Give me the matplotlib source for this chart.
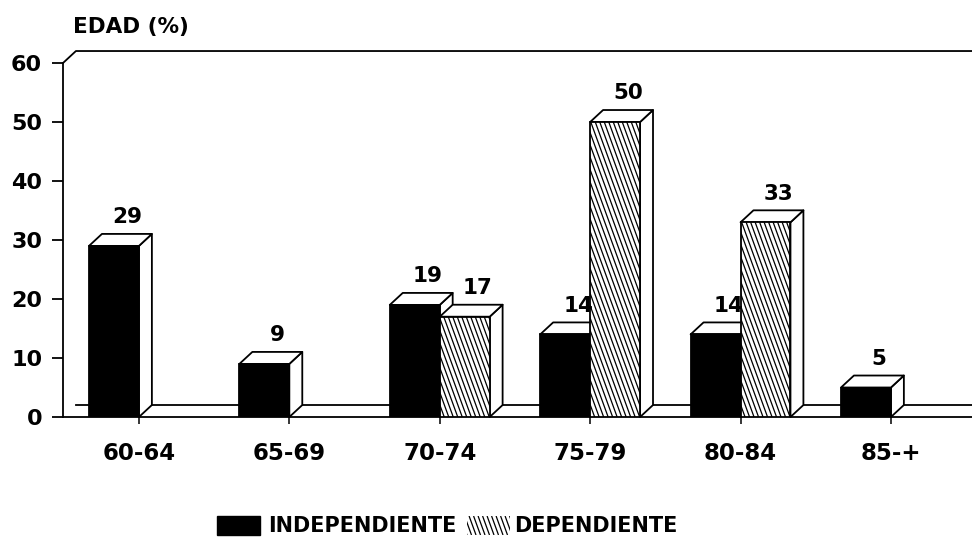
import matplotlib
matplotlib.use("Agg")
import matplotlib.pyplot as plt
import numpy as np
from matplotlib.patches import Polygon, Rectangle
from matplotlib.collections import LineCollection
from matplotlib.transforms import IdentityTransform

age_groups = ["60-64", "65-69", "70-74", "75-79", "80-84", "85-+"]
independiente = [29, 9, 19, 14, 14, 5]
dependiente = [0, 0, 17, 50, 33, 0]
y_ticks = [0, 10, 20, 30, 40, 50, 60]

plt.rcParams["font.family"] = "DejaVu Sans"
plt.rcParams["font.weight"] = "bold"

fig = plt.figure(figsize=(9.72, 5.44), dpi=100)
ax = fig.add_axes([63 / 972, 127 / 544, 909 / 972, 354 / 544])
xmin, xmax = -0.505, 5.539
ax.set_xlim(xmin, xmax)
ax.set_ylim(0, 60)
ax.set_autoscale_on(False)

w = 0.332   # bar width
dx = 0.086  # depth offset (x)
dy = 2.03   # depth offset (y)
lw = 1.3


def steep_hatch(patch, parent, step=4.5, angle=70, z=6):
    # diagonal lines (top-left to bottom-right), clipped to the patch
    bb = patch.get_extents()
    k = bb.height / np.tan(np.radians(angle))
    starts = np.arange(bb.x0 - k - step, bb.x1 + step, step)
    segs = [[(s, bb.y1), (s + k, bb.y0)] for s in starts]
    lc = LineCollection(segs, colors="black", linewidths=0.9,
                        transform=IdentityTransform(), zorder=z)
    parent.add_artist(lc)
    lc.set_clip_path(patch)  # after add_artist, otherwise it gets reset


def box_faces(x0, v, z):
    x1 = x0 + w
    top = Polygon([(x0, v), (x0 + dx, v + dy), (x1 + dx, v + dy), (x1, v)],
                  closed=True, fc="white", ec="black", lw=lw, zorder=z,
                  joinstyle="round", clip_on=False)
    side = Polygon([(x1, 0), (x1 + dx, dy), (x1 + dx, v + dy), (x1, v)],
                   closed=True, fc="white", ec="black", lw=lw, zorder=z,
                   joinstyle="round", clip_on=False)
    ax.add_patch(side)
    ax.add_patch(top)


# frame: left wall, back wall top, floor
ax.plot([xmin, xmin + dx, xmax], [60, 60 + dy, 60 + dy], color="black",
        lw=lw, clip_on=False, zorder=1)
ax.plot([xmin + dx, xmax], [dy, dy], color="black", lw=lw, zorder=1)

x = np.arange(len(age_groups))
for i in range(len(age_groups)):
    vi = independiente[i]
    vd = dependiente[i]
    if vi > 0:
        box_faces(i - w, vi, 2)
        ax.bar(i - w, vi, w, align="edge", color="black", ec="black",
               lw=lw, zorder=3)
        ax.text(i - w + w / 2 + dx, vi + dy + 1.8, str(vi), ha="center",
                va="baseline", fontsize=15.5, fontweight="bold", zorder=10)
    if vd > 0:
        box_faces(i, vd, 4)
        b = ax.bar(i, vd, w, align="edge", color="white", ec="black",
                   lw=lw, zorder=5)
        steep_hatch(b.patches[0], ax)
        ax.text(i + w / 2 + dx, vd + dy + 1.8, str(vd), ha="center",
                va="baseline", fontsize=15.5, fontweight="bold", zorder=10)

ax.spines["top"].set_visible(False)
ax.spines["right"].set_visible(False)
ax.spines["left"].set_linewidth(lw)
ax.spines["bottom"].set_linewidth(lw)

ax.set_yticks(y_ticks)
ax.set_xticks(x)
ax.set_xticklabels(age_groups)
ax.tick_params(axis="y", direction="out", length=8, width=lw, pad=7,
               labelsize=16)
ax.tick_params(axis="x", direction="out", length=5, width=1.1, pad=13,
               labelsize=16.5)

fig.text(73 / 972, 1 - 27 / 544, "EDAD (%)", ha="left", va="center",
         fontsize=15.5, fontweight="bold")

# legend
black_patch = Rectangle((217 / 972, 1 - 535 / 544), 43 / 972, 19 / 544,
                        transform=fig.transFigure, fc="black", ec="black")
fig.add_artist(black_patch)
fig.text(268 / 972, 1 - 526 / 544, "INDEPENDIENTE", ha="left", va="center",
         fontsize=15, fontweight="bold")
hatch_patch = Rectangle((467 / 972, 1 - 535 / 544), 43 / 972, 19 / 544,
                        transform=fig.transFigure, fc="white", ec="none")
fig.add_artist(hatch_patch)
steep_hatch(hatch_patch, fig)
fig.text(514 / 972, 1 - 526 / 544, "DEPENDIENTE", ha="left", va="center",
         fontsize=15, fontweight="bold")

fig.savefig("out.png", dpi=100)
